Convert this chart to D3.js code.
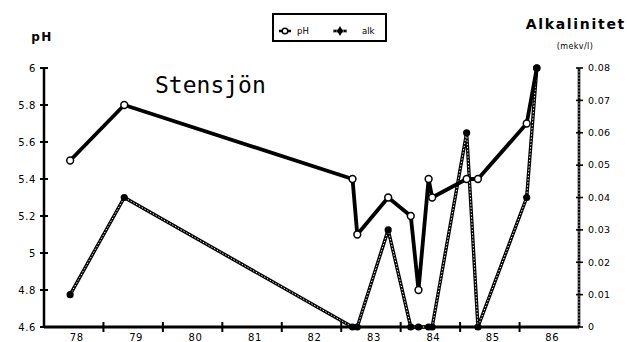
<!DOCTYPE html>
<html>
<head>
<meta charset="utf-8">
<script src="https://cdn.jsdelivr.net/npm/d3@7/dist/d3.min.js"></script>
<style>
  body { margin: 0; background: #fff; }
  svg { display: block; }
  text { fill: #000; }
</style>
</head>
<body>
<svg id="chart" width="627" height="342"></svg>
<script>
// Sampling dates (decimal years) with pH and alkalinity at each sample
const sampleDates = [1978.44, 1979.35, 1983.19, 1983.27, 1983.79, 1984.17, 1984.30,
                     1984.47, 1984.53, 1985.11, 1985.30, 1986.12, 1986.29];
const phValues    = [5.5, 5.8, 5.4, 5.1, 5.3, 5.2, 4.8, 5.4, 5.3, 5.4, 5.4, 5.7, 6.0];
const alkValues   = [0.01, 0.04, 0, 0, 0.03, 0, 0, 0, 0, 0.06, 0, 0.04, 0.08];

// Axis ticks and labels
const phTicks      = [4.6, 4.8, 5, 5.2, 5.4, 5.6, 5.8, 6];
const phTickLabels = ["4.6", "4.8", "5", "5.2", "5.4", "5.6", "5.8", "6"];
const alkTicks      = [0, 0.01, 0.02, 0.03, 0.04, 0.05, 0.06, 0.07, 0.08];
const alkTickLabels = ["0", "0.01", "0.02", "0.03", "0.04", "0.05", "0.06", "0.07", "0.08"];
const yearStarts = [1978, 1979, 1980, 1981, 1982, 1983, 1984, 1985, 1986];
const yearLabels = ["78", "79", "80", "81", "82", "83", "84", "85", "86"];

const svg = d3.select("#chart");
const plotLeft = 44, plotRight = 579, plotTop = 68, plotBottom = 327;

const x = d3.scaleLinear().domain([1978, 1987]).range([plotLeft, plotRight]);
const yPH = d3.scaleLinear().domain([4.6, 6]).range([plotBottom, plotTop]);
const yAlk = d3.scaleLinear().domain([0, 0.08]).range([plotBottom, plotTop]);

const numFont = "DejaVu Sans, Verdana, sans-serif";

// chained (hatched) stroke used for the alkalinity series and its axis
function chain(sel, w) {
  sel.append("path").attr("fill", "none").attr("stroke", "#000")
     .attr("stroke-width", w).attr("stroke-linejoin", "round");
  sel.append("path").attr("fill", "none").attr("stroke", "#fff")
     .attr("stroke-width", Math.max(0.8, w - 2.4)).attr("stroke-dasharray", "1.4,1.8");
}

// ---- left pH axis ----
const gL = svg.append("g");
gL.append("line").attr("x1", plotLeft).attr("x2", plotLeft)
  .attr("y1", yPH(6)).attr("y2", yPH(4.6))
  .attr("stroke", "#000").attr("stroke-width", 2.5);
gL.selectAll("line.t").data(phTicks).join("line").attr("class", "t")
  .attr("x1", plotLeft - 4).attr("x2", plotLeft + 4)
  .attr("y1", d => yPH(d)).attr("y2", d => yPH(d))
  .attr("stroke", "#000").attr("stroke-width", 2);
gL.selectAll("text").data(phTicks).join("text")
  .attr("x", plotLeft - 8).attr("y", d => yPH(d)).attr("dy", "0.35em")
  .attr("text-anchor", "end")
  .style("font", `10px ${numFont}`).style("letter-spacing", "0.6px")
  .text((d, i) => phTickLabels[i]);
svg.append("text").attr("x", 42).attr("y", 41).attr("text-anchor", "middle")
  .style("font", `bold 12px ${numFont}`).style("letter-spacing", "1.5px")
  .text("pH");

// ---- bottom time axis ----
const gB = svg.append("g");
gB.append("line").attr("x1", plotLeft).attr("x2", plotRight)
  .attr("y1", plotBottom).attr("y2", plotBottom)
  .attr("stroke", "#000").attr("stroke-width", 3);
gB.selectAll("line.t").data(yearStarts.slice(1)).join("line").attr("class", "t")
  .attr("x1", d => x(d)).attr("x2", d => x(d))
  .attr("y1", plotBottom - 5).attr("y2", plotBottom + 5)
  .attr("stroke", "#000").attr("stroke-width", 2);
gB.selectAll("text").data(yearStarts).join("text")
  .attr("x", d => x(d + 0.55)).attr("y", 341)
  .attr("text-anchor", "middle")
  .style("font", `10px ${numFont}`).style("letter-spacing", "0.6px")
  .text((d, i) => yearLabels[i]);

// ---- right alkalinity axis ----
const gR = svg.append("g");
chain(gR, 2.6);
gR.selectAll("path").attr("d", d3.line()([[plotRight, yAlk(0.08)], [plotRight, yAlk(0)]]));
gR.selectAll("line.t").data(alkTicks).join("line").attr("class", "t")
  .attr("x1", plotRight - 3).attr("x2", plotRight + 4)
  .attr("y1", d => yAlk(d)).attr("y2", d => yAlk(d))
  .attr("stroke", "#000").attr("stroke-width", 1.6);
gR.selectAll("text").data(alkTicks).join("text")
  .attr("x", plotRight + 9).attr("y", d => yAlk(d)).attr("dy", "0.35em")
  .style("font", `9.5px ${numFont}`).style("letter-spacing", "0.3px")
  .text((d, i) => alkTickLabels[i]);
svg.append("text").attr("x", 626).attr("y", 29).attr("text-anchor", "end")
  .style("font", `bold 14px ${numFont}`).style("letter-spacing", "1.7px")
  .text("Alkalinitet");
svg.append("text").attr("x", 575).attr("y", 49).attr("text-anchor", "middle")
  .style("font", `8px ${numFont}`).style("letter-spacing", "0.4px")
  .text("(mekv/l)");

// ---- title ----
svg.append("text").attr("x", 155).attr("y", 93)
  .style("font", "23px 'DejaVu Sans Mono', monospace")
  .text("Stensjön");

// ---- alkalinity series ----
const alkPts = sampleDates.map((d, i) => [x(d), yAlk(alkValues[i])]);
const gA = svg.append("g");
chain(gA, 3.4);
gA.selectAll("path").attr("d", d3.line()(alkPts));
gA.selectAll("circle").data(alkPts).join("circle")
  .attr("cx", d => d[0]).attr("cy", d => d[1]).attr("r", 3.6)
  .attr("fill", "#000");

// ---- pH series ----
const phPts = sampleDates.map((d, i) => [x(d), yPH(phValues[i])]);
const gP = svg.append("g");
gP.append("path").attr("d", d3.line()(phPts))
  .attr("fill", "none").attr("stroke", "#000").attr("stroke-width", 3.8)
  .attr("stroke-linejoin", "round");
gP.selectAll("circle").data(phPts.slice(0, -1)).join("circle")
  .attr("cx", d => d[0]).attr("cy", d => d[1]).attr("r", 3.4)
  .attr("fill", "#fff").attr("stroke", "#000").attr("stroke-width", 1.5);
// the final sample marker is drawn filled where both series meet
svg.append("circle").attr("cx", alkPts[alkPts.length - 1][0])
  .attr("cy", alkPts[alkPts.length - 1][1]).attr("r", 3.8).attr("fill", "#000");

// ---- legend ----
const lg = svg.append("g");
lg.append("rect").attr("x", 273).attr("y", 14).attr("width", 113).attr("height", 27)
  .attr("fill", "#fff").attr("stroke", "#000").attr("stroke-width", 2);
lg.append("line").attr("x1", 279).attr("x2", 291).attr("y1", 31).attr("y2", 31)
  .attr("stroke", "#000").attr("stroke-width", 2.5);
lg.append("circle").attr("cx", 285).attr("cy", 31).attr("r", 2.8)
  .attr("fill", "#fff").attr("stroke", "#000").attr("stroke-width", 1.4);
lg.append("text").attr("x", 297).attr("y", 34)
  .style("font", `8.5px ${numFont}`).text("pH");
const lgA = lg.append("g");
chain(lgA, 2.6);
lgA.selectAll("path").attr("d", d3.line()([[333, 31], [347, 31]]));
lg.append("path").attr("d", d3.symbol(d3.symbolDiamond, 30)())
  .attr("transform", "translate(340,31)").attr("fill", "#000");
lg.append("text").attr("x", 362).attr("y", 34)
  .style("font", `8.5px ${numFont}`).text("alk");
</script>
</body>
</html>
